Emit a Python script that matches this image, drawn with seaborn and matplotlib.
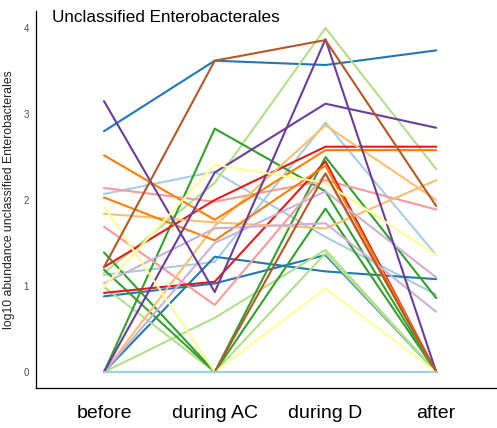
import matplotlib
matplotlib.use("Agg")
import matplotlib.pyplot as plt
import seaborn as sns
import pandas as pd

# ---- data ----
times = ["before", "during AC", "during D", "after"]
subjects = ["LB1", "LB2", "LB3", "BL1", "BL2", "BL3", "LG1", "LG2", "LG3",
            "G1", "G2", "G3", "P1", "P2", "R1", "R2", "LO1", "LO2", "O1", "O2",
            "LP1", "LP2", "PU1", "PU2", "Y1", "Y2", "B1", "B2"]
before    = [0.00, 2.07, 1.13, 2.80, 0.00, 0.88, 0.00, 0.99, 1.15,
             0.00, 1.39, 1.19, 2.14, 1.69, 1.22, 0.92, 1.84, 0.00, 2.52, 2.03,
             1.03, 0.00, 3.15, 0.00, 1.93, 0.99, 1.22, 0.00]
during_ac = [0.00, 2.33, 1.28, 3.62, 1.34, 1.03, 0.63, 0.00, 2.20,
             2.83, 0.00, 0.00, 1.98, 0.78, 2.00, 1.05, 1.74, 1.70, 1.77, 1.53,
             1.67, 1.50, 0.93, 2.32, 0.00, 2.41, 3.62, 0.00]
during_d  = [0.00, 1.57, 2.90, 3.57, 1.17, 1.36, 1.42, 1.38, 4.00,
             2.10, 2.50, 1.90, 2.23, 2.30, 2.62, 2.45, 1.67, 2.87, 2.58, 2.40,
             1.73, 2.10, 3.87, 3.12, 0.97, 2.20, 3.86, 2.31]
after     = [0.00, 0.90, 1.36, 3.74, 1.08, 0.00, 0.00, 0.00, 2.36,
             0.00, 0.86, 0.00, 1.89, 0.00, 2.62, 0.00, 2.23, 2.00, 2.58, 0.00,
             0.70, 1.10, 0.00, 2.84, 0.00, 1.36, 1.93, 0.00]
subject_colors = ["#a6cee3", "#a6cee3", "#a6cee3", "#1f78b4", "#1f78b4", "#1f78b4",
                  "#b2df8a", "#b2df8a", "#b2df8a", "#33a02c", "#33a02c", "#33a02c",
                  "#fb9a99", "#fb9a99", "#e31a1c", "#e31a1c", "#fdbf6f", "#fdbf6f",
                  "#ff7f00", "#ff7f00", "#cab2d6", "#cab2d6", "#6a3d9a", "#6a3d9a",
                  "#ffff99", "#ffff99", "#b15928", "#b15928"]
yticks = [0, 1, 2, 3, 4]

rows = []
for i, s in enumerate(subjects):
    for t, v in zip(times, [before[i], during_ac[i], during_d[i], after[i]]):
        rows.append({"subject": s, "time": t, "value": v})
df = pd.DataFrame(rows)

sns.set_style("white")
plt.rcParams["font.family"] = ["Liberation Sans", "DejaVu Sans"]

W, H = 497, 428
fig = plt.figure(figsize=(W / 100, H / 100), dpi=100)
ax = fig.add_axes([36 / W, (H - 388) / H, 460 / W, (388 - 11) / H])

draw_order = subjects[1:] + subjects[:1]
sns.lineplot(data=df, x="time", y="value", hue="subject", hue_order=draw_order,
             palette=dict(zip(subjects, subject_colors)), estimator=None,
             sort=False, linewidth=1.5, legend=False, ax=ax)

ax.set_xlim(-0.614, 3.54)
ax.set_ylim(-0.186, 4.198)
ax.set_yticks(yticks)
ax.set_yticklabels([str(t) for t in yticks], fontsize=7, color="#4d4d4d")
ax.set_xticks(range(len(times)))
ax.set_xticklabels(times, fontsize=14, color="black")
ax.tick_params(axis="y", length=3, width=0.6, color="#4d4d4d", pad=2)
ax.tick_params(axis="x", length=3, width=0.6, color="#4d4d4d", pad=9)
ax.set_xlabel("")
ax.set_ylabel("log10 abundance unclassified Enterobacterales", fontsize=8.8,
              labelpad=6, color="#222222")
for side in ["top", "right"]:
    ax.spines[side].set_visible(False)
for side in ["left", "bottom"]:
    ax.spines[side].set_color("black")
    ax.spines[side].set_linewidth(0.9)

fig.text(52 / W, 1 - 18 / H, "Unclassified Enterobacterales", fontsize=12.3,
         ha="left", va="center", color="black")

fig.savefig("out.png", dpi=100)
